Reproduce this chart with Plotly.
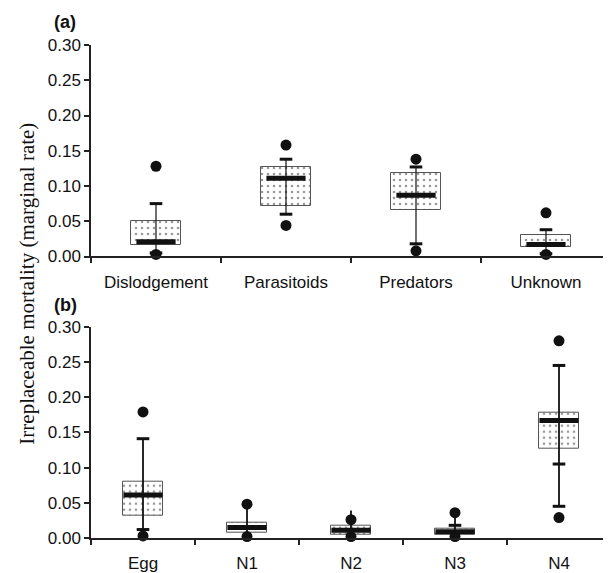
import plotly.graph_objects as go
from plotly.subplots import make_subplots

# ---- data: panel (a) mortality factors ----
cats_a = ["Dislodgement", "Parasitoids", "Predators", "Unknown"]
q1_a = [0.016, 0.072, 0.066, 0.014]
q3_a = [0.050, 0.127, 0.118, 0.030]
med_a = [0.021, 0.111, 0.087, 0.017]
wlo_a = [0.005, 0.060, 0.018, 0.004]
whi_a = [0.075, 0.138, 0.127, 0.038]
caplo_a = [0.005, 0.060, 0.018, 0.004]
caphi_a = [0.075, 0.138, 0.127, 0.038]
caplo2_a = [None, None, None, None]
outhi_a = [0.128, 0.158, 0.138, 0.062]
outlo_a = [0.003, 0.044, 0.008, 0.003]

# ---- data: panel (b) life stages ----
cats_b = ["Egg", "N1", "N2", "N3", "N4"]
q1_b = [0.032, 0.008, 0.005, 0.004, 0.127]
q3_b = [0.080, 0.022, 0.017, 0.013, 0.178]
med_b = [0.061, 0.015, 0.011, 0.009, 0.167]
wlo_b = [0.012, 0.003, 0.003, 0.003, 0.045]
whi_b = [0.141, 0.045, 0.039, 0.034, 0.245]
caplo_b = [0.012, None, None, None, 0.045]
caphi_b = [0.141, None, None, 0.018, 0.245]
caplo2_b = [None, None, None, None, 0.105]
outhi_b = [0.179, 0.048, 0.026, 0.036, 0.280]
outlo_b = [0.003, 0.002, 0.002, 0.002, 0.029]

yticks = [0.00, 0.05, 0.10, 0.15, 0.20, 0.25, 0.30]

fig = make_subplots(rows=2, cols=1, vertical_spacing=0.14)


def add_panel(row, cats, q1, q3, med, wlo, whi, caplo, caphi, caplo2, outhi, outlo, wwidth):
    heights = [b - a for a, b in zip(q1, q3)]
    fig.add_trace(go.Bar(
        x=cats, y=heights, base=q1, width=0.39,
        marker=dict(color="white", line=dict(color="#555555", width=1),
                    pattern=dict(shape=".", fgcolor="#333333", bgcolor="white",
                                 size=6, solidity=0.15)),
        showlegend=False, hoverinfo="skip"), row=row, col=1)
    # whisker lines
    wx, wy = [], []
    for c, lo, hi in zip(cats, wlo, whi):
        wx += [c, c, None]
        wy += [lo, hi, None]
    fig.add_trace(go.Scatter(x=wx, y=wy, mode="lines",
                             line=dict(color="#111111", width=wwidth),
                             showlegend=False, hoverinfo="skip", cliponaxis=False),
                  row=row, col=1)
    # caps
    cx, cy = [], []
    for arr in (caplo, caphi, caplo2):
        for c, v in zip(cats, arr):
            if v is not None:
                cx.append(c)
                cy.append(v)
    fig.add_trace(go.Scatter(x=cx, y=cy, mode="markers",
                             marker=dict(symbol="line-ew", size=9,
                                         line=dict(color="#111111", width=3)),
                             showlegend=False, hoverinfo="skip", cliponaxis=False),
                  row=row, col=1)
    # medians
    fig.add_trace(go.Scatter(x=cats, y=med, mode="markers",
                             marker=dict(symbol="line-ew", size=28,
                                         line=dict(color="#111111", width=5)),
                             showlegend=False, hoverinfo="skip", cliponaxis=False),
                  row=row, col=1)
    # outliers
    fig.add_trace(go.Scatter(x=list(cats) + list(cats), y=list(outhi) + list(outlo),
                             mode="markers",
                             marker=dict(symbol="circle", size=11, color="#111111"),
                             showlegend=False, hoverinfo="skip", cliponaxis=False),
                  row=row, col=1)


add_panel(1, cats_a, q1_a, q3_a, med_a, wlo_a, whi_a, caplo_a, caphi_a, caplo2_a, outhi_a, outlo_a, 1.2)
add_panel(2, cats_b, q1_b, q3_b, med_b, wlo_b, whi_b, caplo_b, caphi_b, caplo2_b, outhi_b, outlo_b, 1.8)

axis_common = dict(showline=True, linecolor="#222222", linewidth=1.5, showgrid=False,
                   zeroline=False, ticks="outside", tickcolor="#222222", ticklen=5,
                   tickwidth=1.5, tickfont=dict(family="Liberation Sans, Arial", size=17, color="#111111"))

fig.update_xaxes(**axis_common, type="category", tickson="boundaries", ticklabelstandoff=9)
fig.update_xaxes(range=[-0.5, 3.5], row=1, col=1)
fig.update_xaxes(range=[-0.5, 4.5], row=2, col=1)
fig.update_yaxes(**axis_common, range=[0, 0.30], tickvals=yticks,
                 ticktext=[f"{v:.2f}" for v in yticks])

# page body adds an 8px offset, so the figure is 8px smaller than the window
fig.update_layout(
    width=603, height=565,
    margin=dict(l=83, r=0, t=37, b=31),
    plot_bgcolor="white", paper_bgcolor="white",
    bargap=0,
    yaxis=dict(domain=[0.571, 1.0]),
    yaxis2=dict(domain=[0.0, 0.4286]),
    annotations=[
        dict(text="Irreplaceable mortality (marginal rate)", textangle=-90,
             xref="paper", yref="paper", x=-0.122, y=0.515, xanchor="center", yanchor="middle",
             showarrow=False, font=dict(family="Liberation Serif, Times New Roman", size=21, color="#111111")),
        dict(text="<b>(a)</b>", xref="paper", yref="paper", x=-0.075, y=1.0, yshift=23,
             xanchor="left", yanchor="middle", showarrow=False,
             font=dict(family="Liberation Sans, Arial", size=18, color="#111111")),
        dict(text="<b>(b)</b>", xref="paper", yref="paper", x=-0.075, y=0.4286, yshift=22,
             xanchor="left", yanchor="middle", showarrow=False,
             font=dict(family="Liberation Sans, Arial", size=18, color="#111111")),
    ],
)

fig.write_html("out.html")
